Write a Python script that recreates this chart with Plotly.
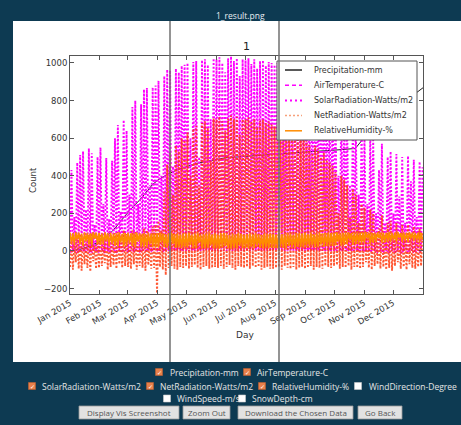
import pandas as pd
import plotly.graph_objects as go

START = "2015-01-01"
END = "2016-01-01"
BLOCK = 3    # days covered by each entry of the hourly-like series below
TBLOCK = 6   # days covered by each temperature entry

# ---- data -----------------------------------------------------------------
precip_day = [0, 10, 20, 34, 45, 62, 72, 85, 91, 100, 110, 130, 160, 200, 240, 275, 295, 310, 330, 350, 365]
precip_mm = [0, 8, 25, 58, 112, 218, 271, 351, 378, 405, 430, 465, 495, 512, 525, 537, 545, 640, 730, 810, 868]

solar_peak = [430, 180, 470, 510, 530, 220, 545, 520, 140, 500,
              550, 250, 495, 170, 480, 600, 670, 210, 697, 640,
              300, 765, 800, 250, 780, 860, 867, 350, 870, 880,
              905, 400, 930, 965, 960, 450, 970, 950, 985, 990,
              1000, 600, 1005, 1010, 500, 1015, 1020, 990, 700, 1025,
              1020, 1030, 1000, 950, 1025, 1035, 1010, 1025, 930, 1020,
              1015, 1025, 995, 1020, 970, 1010, 1015, 985, 1005, 1000,
              990, 1000, 950, 985, 995, 930, 980, 965, 955, 945,
              960, 945, 920, 880, 940, 915, 860, 900, 870, 850,
              845, 810, 400, 790, 770, 740, 350, 710, 690, 300,
              645, 615, 250, 630, 600, 200, 430, 570, 150, 500,
              530, 200, 515, 290, 500, 150, 505, 370, 485, 180, 475, 445]
solar_night = [0] * len(solar_peak)

net_peak = [60, 40, 80, 90, 70, 45, 85, 95, 30, 80,
            90, 50, 85, 40, 70, 95, 100, 50, 110, 90,
            50, 110, 100, 40, 90, 120, 110, 60, 130, 140,
            160, 110, 320, 460, 520, 300, 560, 530, 600, 590,
            630, 400, 650, 665, 350, 680, 690, 655, 480, 705,
            700, 715, 690, 640, 705, 720, 700, 712, 620, 700,
            700, 710, 690, 702, 660, 692, 700, 680, 690, 672,
            662, 670, 630, 652, 660, 600, 642, 632, 612, 600,
            605, 585, 565, 520, 560, 545, 500, 525, 485, 470,
            455, 420, 200, 400, 380, 350, 180, 330, 300, 150,
            250, 230, 100, 220, 200, 90, 120, 190, 70, 150,
            160, 80, 150, 80, 140, 60, 140, 90, 130, 70, 120, 100]
net_low = [-85, -100, -60, -95, -105, -70, -90, -110, -55, -95,
           -90, -80, -65, -100, -85, -75, -95, -70, -90, -80,
           -85, -95, -70, -100, -80, -90, -105, -75, -95, -90,
           -225, -85, -100, -128, -90, -80, -95, -100, -85, -90,
           -80, -95, -85, -75, -90, -100, -85, -80, -95, -90,
           -85, -90, -80, -95, -85, -75, -90, -100, -80, -85,
           -90, -85, -95, -80, -90, -85, -100, -90, -85, -95,
           -95, -90, -85, -100, -80, -90, -95, -85, -100, -90,
           -85, -95, -90, -80, -100, -85, -90, -95, -80, -85,
           -90, -80, -75, -95, -85, -90, -80, -100, -85, -90,
           -95, -85, -60, -90, -100, -80, -70, -95, -85, -100,
           -90, -105, -80, -60, -95, -85, -100, -70, -90, -95, -85, -80]

rh_high = [98, 95, 100, 97, 92, 99, 96, 94, 100, 97,
           96, 93, 99, 95, 97, 92, 94, 98, 91, 95,
           97, 94, 92, 99, 95, 93, 90, 98, 94, 92,
           95, 99, 93, 90, 92, 98, 91, 94, 89, 92,
           90, 97, 88, 92, 99, 86, 90, 94, 96, 88,
           92, 87, 95, 98, 89, 85, 91, 88, 97, 90,
           86, 90, 93, 88, 95, 89, 85, 92, 90, 94,
           91, 88, 96, 90, 87, 97, 92, 89, 94, 95,
           93, 96, 92, 98, 90, 94, 99, 92, 96, 97,
           95, 98, 100, 94, 96, 97, 100, 95, 98, 96,
           97, 99, 100, 96, 98, 97, 100, 95, 99, 98,
           100, 98, 97, 100, 96, 99, 97, 100, 98, 96, 99, 97]
rh_low = [40, 32, 60, 38, 28, 50, 35, 30, 65, 36,
          33, 36, 55, 28, 40, 26, 24, 46, 22, 30,
          42, 25, 22, 50, 24, 20, 22, 38, 19, 18,
          18, 45, 20, 17, 19, 38, 16, 20, 15, 18,
          17, 34, 15, 14, 44, 14, 13, 17, 30, 12,
          14, 12, 18, 26, 13, 12, 15, 12, 28, 14,
          13, 12, 20, 14, 24, 15, 12, 18, 14, 16,
          15, 13, 22, 16, 14, 26, 17, 18, 21, 20,
          18, 21, 24, 30, 20, 23, 34, 22, 26, 28,
          26, 30, 50, 28, 32, 36, 58, 34, 38, 40,
          40, 44, 66, 38, 42, 48, 68, 44, 46, 50,
          48, 56, 46, 70, 50, 54, 48, 66, 52, 56, 50, 58]

temp_high = [3, 0, 5, -2, 4, 6, 2, 7, 4, 8, 9, 11, 7, 13, 12, 14, 10, 16, 18, 15,
             20, 17, 22, 24, 21, 26, 28, 25, 30, 29, 31, 30, 33, 29, 32, 31, 28, 30, 27, 26,
             25, 22, 24, 20, 19, 18, 15, 17, 12, 13, 9, 6, 8, 4, 5, 2, 4, 0, 3, 1, -1]
temp_low = [-8, -12, -6, -14, -9, -7, -10, -5, -8, -4, -5, -3, -6, -1, -2, 0, -3, 2, 3, 1,
            5, 3, 7, 8, 6, 9, 11, 10, 13, 12, 14, 13, 15, 12, 14, 13, 11, 12, 10, 9,
            8, 6, 7, 4, 3, 2, 0, 1, -2, -1, -4, -6, -3, -8, -5, -9, -7, -11, -8, -10, -12]

month_ticks = ["2015-01-01", "2015-02-01", "2015-03-01", "2015-04-01", "2015-05-01", "2015-06-01",
               "2015-07-01", "2015-08-01", "2015-09-01", "2015-10-01", "2015-11-01", "2015-12-01"]
month_labels = ["Jan 2015", "Feb 2015", "Mar 2015", "Apr 2015", "May 2015", "Jun 2015",
                "Jul 2015", "Aug 2015", "Sep 2015", "Oct 2015", "Nov 2015", "Dec 2015"]
y_ticks = [-200, 0, 200, 400, 600, 800, 1000]

series_names = ["Precipitation-mm", "AirTemperature-C", "SolarRadiation-Watts/m2",
                "NetRadiation-Watts/m2", "RelativeHumidity-%"]
checkbox_rows = [
    [("Precipitation-mm", True), ("AirTemperature-C", True)],
    [("SolarRadiation-Watts/m2", True), ("NetRadiation-Watts/m2", True),
     ("RelativeHumidity-%", True), ("WindDirection-Degree", False)],
    [("WindSpeed-m/s", False), ("SnowDepth-cm", False)],
]
buttons = ["Display Vis Screenshot", "Zoom Out", "Download the Chosen Data", "Go Back"]

# ---- helpers ----------------------------------------------------------------
t0 = pd.Timestamp(START)


def to_dates(days):
    return [t0 + pd.Timedelta(days=float(d)) for d in days]


def cycle(base, peak, step):
    days, vals = [], []
    for i, (b, p) in enumerate(zip(base, peak)):
        days += [i * step, i * step + step / 2]
        vals += [b, p]
    return to_dates(days), vals


W, H = 461, 425
L, R, T, B = 70, 423, 56, 294


def px(x):
    return (x - L) / (R - L)


def py(y):
    return (B - y) / (B - T)


FONT = "DejaVu Sans"
UIFONT = "Open Sans"
NAVY = "#0d3a52"
MAG = "#ff00ff"
NETC = "#ff3a10"
RHC = "#ff8c00"


def note(x, y, text, size, color, family=FONT, xa="center", ya="middle", angle=0):
    return dict(x=px(x), y=py(y), xref="paper", yref="paper", text=text, showarrow=False,
                xanchor=xa, yanchor=ya, textangle=angle, font=dict(family=family, size=size, color=color))


fig = go.Figure()

fig.add_trace(go.Scatter(x=to_dates(precip_day), y=precip_mm, mode="lines",
                         name=series_names[0], line=dict(color="#222222", width=1)))
tx, ty = cycle(temp_low, temp_high, TBLOCK)
fig.add_trace(go.Scatter(x=tx, y=ty, mode="lines", name=series_names[1],
                         line=dict(color=MAG, width=1.5, dash="5px,3px")))
sx, sy = cycle(solar_night, solar_peak, BLOCK)
fig.add_trace(go.Scatter(x=sx, y=sy, mode="lines", name=series_names[2],
                         line=dict(color=MAG, width=1.9, dash="2px,1.8px")))
nx, ny = cycle(net_low, net_peak, BLOCK)
fig.add_trace(go.Scatter(x=nx, y=ny, mode="lines", name=series_names[3], opacity=0.85,
                         line=dict(color=NETC, width=1.9, dash="2px,1.8px")))
rx, ry = cycle(rh_high, rh_low, BLOCK)
fig.add_trace(go.Scatter(x=rx, y=ry, mode="lines", name=series_names[4],
                         line=dict(color=RHC, width=1.6)))

shapes = []
annots = []

# white image area
shapes.append(dict(type="rect", xref="paper", yref="paper", x0=px(13), x1=px(461), y0=py(362), y1=py(21),
                   fillcolor="white", line=dict(width=0), layer="below"))

# legend box (manual, to match matplotlib spacing)
shapes.append(dict(type="rect", xref="paper", yref="paper", x0=px(277), x1=px(417), y0=py(140), y1=py(61),
                   fillcolor="white", line=dict(color="#555", width=1), layer="above"))
leg_styles = [dict(color="#222", width=1.5), dict(color=MAG, width=1.5, dash="4px,3px"),
              dict(color=MAG, width=2, dash="2px,3px"), dict(color="#f7a07a", width=1.5, dash="2px,2px"),
              dict(color=RHC, width=1.5)]
for i, (nm, st) in enumerate(zip(series_names, leg_styles)):
    yy = 70 + i * 15.2
    shapes.append(dict(type="line", xref="paper", yref="paper", x0=px(285), x1=px(302), y0=py(yy), y1=py(yy),
                       line=st, layer="above"))
    annots.append(note(312, yy, nm, 8, "#333", xa="left"))

# cursor lines of the viewer
for xv in (170, 279):
    shapes.append(dict(type="line", xref="paper", yref="paper", x0=px(xv), x1=px(xv), y0=py(362), y1=py(21),
                       line=dict(color="#707070", width=1.5), layer="above"))

# title bar and axis texts
annots.append(note(240, 15.5, "1_result.png", 8.5, "#e8eef2", family=UIFONT))
annots.append(note(246, 47, "1", 11, "#222"))
annots.append(note(33, 180, "Count", 8.5, "#333", angle=-90))
annots.append(note(245, 335, "Day", 9, "#333"))

# checkboxes
row_y = [372, 386, 398.5]
row_pos = [[(159, 168), (247, 255)],
           [(32, 40), (150, 158), (262, 270), (358, 367)],
           [(167, 175), (242, 250)]]
for r, row in enumerate(checkbox_rows):
    for (label, checked), (bx, tx_) in zip(row, row_pos[r]):
        yy = row_y[r]
        shapes.append(dict(type="rect", xref="paper", yref="paper", x0=px(bx - 3.5), x1=px(bx + 3.5),
                           y0=py(yy + 3.5), y1=py(yy - 3.5),
                           fillcolor="#e8804a" if checked else "white",
                           line=dict(color="#c06030" if checked else "#cccccc", width=0.6), layer="above"))
        if checked:
            annots.append(note(bx, yy, "✓", 6, "white"))
        annots.append(note(tx_, yy, label, 8.5, "#e6e6e6", family=UIFONT, xa="left"))

# buttons
btn_pos = [(79, 179), (183, 230), (238, 353), (358, 402)]
for label, (x0, x1) in zip(buttons, btn_pos):
    shapes.append(dict(type="rect", xref="paper", yref="paper", x0=px(x0), x1=px(x1), y0=py(419), y1=py(406),
                       fillcolor="#e2e2e2", line=dict(color="#9a9a9a", width=0.8), layer="above"))
    annots.append(note((x0 + x1) / 2, 412.5, label, 8, "#555", family=UIFONT))

fig.update_layout(
    width=W, height=H,
    margin=dict(l=L, r=W - R, t=T, b=H - B, pad=0),
    paper_bgcolor=NAVY, plot_bgcolor="white",
    showlegend=False,
    shapes=shapes, annotations=annots,
    font=dict(family=FONT, size=8.5, color="#333"),
)
fig.update_xaxes(range=[START, END], tickvals=month_ticks, ticktext=month_labels, tickangle=-30,
                 showgrid=False, zeroline=False, showline=True, linecolor="#555", linewidth=1,
                 mirror="ticks", ticks="inside", ticklen=4, tickcolor="#555",
                 tickfont=dict(family=FONT, size=8.5, color="#333"))
fig.update_yaxes(range=[-229, 1037], tickvals=y_ticks, showgrid=False, zeroline=False,
                 showline=True, linecolor="#555", linewidth=1, mirror="ticks", ticks="inside",
                 ticklen=4, tickcolor="#555", tickfont=dict(family=FONT, size=8.5, color="#333"))

fig.write_html("out.html")
